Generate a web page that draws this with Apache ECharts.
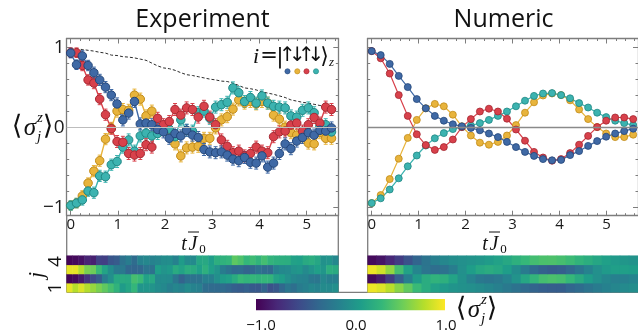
<!DOCTYPE html>
<html><head><meta charset="utf-8">
<script src="https://cdn.jsdelivr.net/npm/echarts@6/dist/echarts.min.js"></script>
<style>html,body{margin:0;padding:0;background:#fff}#c{width:638px;height:333px}</style>
</head><body><div id="c"></div>
<script>
// ---------------- data ----------------
const expT = [0, 0.123, 0.246, 0.368, 0.491, 0.614, 0.737, 0.860, 0.982, 1.105, 1.228, 1.351, 1.474, 1.596, 1.719, 1.842, 1.965, 2.088, 2.210, 2.333, 2.456, 2.579, 2.702, 2.824, 2.947, 3.070, 3.193, 3.316, 3.438, 3.561, 3.684, 3.807, 3.930, 4.052, 4.175, 4.298, 4.421, 4.544, 4.666, 4.789, 4.912, 5.035, 5.158, 5.280, 5.403, 5.526];
const expBlue = [0.925, 0.78, 0.89, 0.77, 0.68, 0.59, 0.50, 0.40, 0.29, 0.09, 0.175, 0.32, 0.04, 0.05, 0.03, -0.03, -0.06, -0.14, -0.08, -0.11, -0.04, -0.10, -0.13, -0.28, -0.31, -0.32, -0.31, -0.35, -0.40, -0.42, -0.38, -0.44, -0.45, -0.36, -0.50, -0.45, -0.33, -0.21, -0.27, -0.175, -0.13, -0.07, -0.10, -0.04, -0.05, -0.01];
const expYellow = [-0.98, -0.95, -0.86, -0.70, -0.55, -0.42, -0.15, -0.01, 0.20, 0.22, 0.21, 0.40, 0.35, 0.14, 0.20, -0.05, -0.03, -0.05, -0.21, -0.36, -0.26, -0.25, -0.24, -0.14, -0.14, -0.01, 0.09, 0.13, 0.225, 0.34, 0.30, 0.32, 0.29, 0.32, 0.30, 0.15, 0.10, 0.0, -0.07, -0.10, -0.11, -0.20, -0.21, -0.07, -0.14, -0.14];
const expRed = [0.93, 0.93, 0.77, 0.59, 0.55, 0.35, 0.155, -0.02, -0.18, -0.19, -0.33, -0.35, -0.33, -0.22, -0.25, 0.11, 0.03, 0.07, 0.22, 0.15, 0.24, 0.22, 0.125, 0.26, 0.125, 0.03, -0.16, -0.24, -0.32, -0.30, -0.36, -0.33, -0.25, -0.30, -0.32, -0.12, -0.06, -0.05, 0.025, 0.05, -0.05, 0.03, 0.12, 0.05, 0.25, 0.22];
const expTeal = [-0.98, -0.95, -0.91, -0.80, -0.82, -0.61, -0.62, -0.47, -0.43, -0.25, -0.16, -0.30, -0.11, -0.075, -0.11, -0.08, -0.03, -0.025, -0.12, 0.09, -0.04, -0.05, 0.18, 0.20, 0.11, 0.25, 0.28, 0.31, 0.49, 0.43, 0.32, 0.37, 0.30, 0.39, 0.30, 0.26, 0.25, 0.24, 0.14, 0.125, 0.21, 0.24, 0.18, 0.01, 0.03, -0.06];
const expErr = [0.06, 0.06, 0.065, 0.065, 0.07, 0.07, 0.07, 0.07, 0.075, 0.075, 0.075, 0.075, 0.075, 0.075, 0.075, 0.075, 0.075, 0.075, 0.075, 0.075, 0.075, 0.075, 0.075, 0.075, 0.075, 0.075, 0.075, 0.075, 0.075, 0.075, 0.075, 0.075, 0.075, 0.075, 0.075, 0.075, 0.075, 0.075, 0.075, 0.075, 0.075, 0.075, 0.075, 0.075, 0.075, 0.075];
const expEnvelope = [0.98, 0.975, 0.97, 0.96, 0.95, 0.935, 0.925, 0.90, 0.895, 0.88, 0.875, 0.865, 0.85, 0.835, 0.80, 0.765, 0.74, 0.73, 0.71, 0.68, 0.655, 0.645, 0.63, 0.615, 0.60, 0.59, 0.575, 0.57, 0.55, 0.52, 0.49, 0.48, 0.465, 0.44, 0.425, 0.41, 0.39, 0.37, 0.34, 0.325, 0.31, 0.30, 0.285, 0.27, 0.26, 0.26];

const numT = [0, 0.192, 0.384, 0.576, 0.768, 0.960, 1.152, 1.344, 1.536, 1.728, 1.920, 2.112, 2.304, 2.496, 2.688, 2.880, 3.072, 3.264, 3.456, 3.648, 3.840, 4.032, 4.224, 4.416, 4.608, 4.800, 4.992, 5.184, 5.376, 5.568];
const numBlue = [0.95, 0.90, 0.79, 0.64, 0.50, 0.35, 0.235, 0.14, 0.08, 0.035, 0.01, -0.01, -0.04, -0.08, -0.125, -0.185, -0.25, -0.31, -0.36, -0.40, -0.415, -0.41, -0.35, -0.30, -0.235, -0.175, -0.12, -0.08, -0.05, -0.02];
const numYellow = [-0.95, -0.85, -0.65, -0.395, -0.135, 0.09, 0.235, 0.29, 0.26, 0.155, 0.01, -0.105, -0.195, -0.22, -0.185, -0.105, 0.025, 0.18, 0.31, 0.395, 0.42, 0.40, 0.335, 0.22, 0.10, 0.0, -0.08, -0.125, -0.125, -0.095];
const numRed = [0.95, 0.86, 0.67, 0.40, 0.14, -0.09, -0.225, -0.285, -0.25, -0.155, 0.0, 0.10, 0.195, 0.23, 0.195, 0.105, -0.03, -0.17, -0.31, -0.38, -0.42, -0.40, -0.325, -0.22, -0.11, 0.0, 0.08, 0.12, 0.12, 0.10];
const numTeal = [-0.95, -0.89, -0.78, -0.64, -0.49, -0.355, -0.23, -0.14, -0.075, -0.025, 0.0, 0.02, 0.05, 0.09, 0.14, 0.195, 0.26, 0.33, 0.39, 0.42, 0.425, 0.40, 0.36, 0.30, 0.245, 0.18, 0.125, 0.08, 0.05, 0.025];

const xTickLabels = [0, 1, 2, 3, 4, 5];
const yTickLabels = [-1, 0, 1];
const rowLabels = ['1', '2', '3', '4'];
const cbarLabels = ['\u22121.0', '0.0', '1.0'];
const panelTitles = ['Experiment', 'Numeric'];

// ---------------- styles ----------------
const FILL = {blue: '#3f69a5', yellow: '#e8b43c', red: '#d8414b', teal: '#3cb3b0'};
const EDGE = {blue: '#244679', yellow: '#c08a18', red: '#a52731', teal: '#1f8683'};
const FRAME = '#7d7d7d';
const VIRIDIS = ['#440154', '#482878', '#3e4989', '#31688e', '#26828e', '#1f9e89', '#35b779', '#6ece58', '#b5de2b', '#fde725'];
const SERIF = '"Liberation Serif", "DejaVu Serif", serif';
const SANS = '"Open Sans", "DejaVu Sans", sans-serif';

const gL = {left: 66.7, top: 38.5, width: 271.6, height: 177.2};
const gR = {left: 367.7, top: 38.5, width: 271.6, height: 177.2};
const hL = {left: 66.7, top: 255.7, width: 271.6, height: 36.6};
const hR = {left: 367.7, top: 255.7, width: 271.6, height: 36.6};
const XMIN = -0.085, XMAX = 5.67, YMIN = -1.1075, YMAX = 1.1075;

const xMinor = []; for (let k = 0; k <= 28; k++) xMinor.push(+(k * 0.2).toFixed(1));
const yMinor = []; for (let k = -5; k <= 5; k++) yMinor.push(+(k * 0.2).toFixed(1));

function mkAxis(gridIndex, position, min, max, ticks, len, labelVals, fs, showLine) {
  return {
    type: 'value', gridIndex, position, min, max,
    axisLine: {show: showLine, onZero: false, lineStyle: {color: FRAME, width: 1.3}},
    axisTick: {show: true, inside: true, length: len, customValues: ticks, lineStyle: {color: FRAME, width: 1}},
    axisLabel: labelVals ? {show: true, customValues: labelVals, fontSize: fs, margin: 2, color: '#1a1a1a', fontFamily: SANS,
      formatter: v => (v < 0 ? '\u2212' + Math.abs(v) : String(v))} : {show: false},
    splitLine: {show: false}, minorTick: {show: false}, minorSplitLine: {show: false}
  };
}
const MAJ = xTickLabels, YMAJ = yTickLabels;

const xAxis = [
  mkAxis(0, 'bottom', XMIN, XMAX, MAJ, 5, xTickLabels, 15, true),
  mkAxis(0, 'top', XMIN, XMAX, MAJ, 5, null, 0, true),
  mkAxis(1, 'bottom', XMIN, XMAX, xMinor, 2.5, null, 0, false),
  mkAxis(1, 'top', XMIN, XMAX, xMinor, 2.5, null, 0, false),
  mkAxis(2, 'bottom', XMIN, XMAX, MAJ, 5, xTickLabels, 15, true),
  mkAxis(2, 'top', XMIN, XMAX, MAJ, 5, null, 0, true),
  mkAxis(3, 'bottom', XMIN, XMAX, xMinor, 2.5, null, 0, false),
  mkAxis(3, 'top', XMIN, XMAX, xMinor, 2.5, null, 0, false),
  {type: 'category', gridIndex: 4, data: expT.map((t, i) => i), show: false},
  {type: 'category', gridIndex: 5, data: numT.map((t, i) => i), show: false}
];
const yAxis = [
  mkAxis(0, 'left', YMIN, YMAX, YMAJ, 5, yTickLabels, 19, true),
  mkAxis(0, 'right', YMIN, YMAX, YMAJ, 5, null, 0, true),
  mkAxis(1, 'left', YMIN, YMAX, yMinor, 2.5, null, 0, false),
  mkAxis(1, 'right', YMIN, YMAX, yMinor, 2.5, null, 0, false),
  mkAxis(2, 'left', YMIN, YMAX, YMAJ, 5, null, 0, true),
  mkAxis(2, 'right', YMIN, YMAX, YMAJ, 5, null, 0, true),
  mkAxis(3, 'left', YMIN, YMAX, yMinor, 2.5, null, 0, false),
  mkAxis(3, 'right', YMIN, YMAX, yMinor, 2.5, null, 0, false),
  {type: 'category', gridIndex: 4, data: rowLabels, show: false},
  {type: 'category', gridIndex: 5, data: rowLabels, show: false}
];

// ---------------- series ----------------
const expSets = [['yellow', expYellow], ['teal', expTeal], ['red', expRed], ['blue', expBlue]];
const numSets = [['yellow', numYellow], ['teal', numTeal], ['red', numRed], ['blue', numBlue]];

function errRender(color) {
  return function (params, api) {
    const t = api.value(0), v = api.value(1), e = api.value(2);
    const a = api.coord([t, v + e]), b = api.coord([t, v - e]);
    const w = 2, st = {stroke: color, lineWidth: 1};
    return {type: 'group', children: [
      {type: 'line', shape: {x1: a[0], y1: a[1], x2: b[0], y2: b[1]}, style: st},
      {type: 'line', shape: {x1: a[0] - w, y1: a[1], x2: a[0] + w, y2: a[1]}, style: st},
      {type: 'line', shape: {x1: b[0] - w, y1: b[1], x2: b[0] + w, y2: b[1]}, style: st}
    ]};
  };
}
const zeroLine = (color, width) => ({silent: true, symbol: ['none', 'none'], label: {show: false}, animation: false,
  lineStyle: {color, width, type: 'solid'}, data: [{yAxis: 0}]});

const series = [];
series.push({type: 'line', name: 'envelope', xAxisIndex: 0, yAxisIndex: 0, data: expT.map((t, i) => [t, expEnvelope[i]]),
  showSymbol: false, symbol: 'none', lineStyle: {color: '#2a2a2a', width: 1, type: [3, 2]}, markLine: zeroLine('#bdbdbd', 1), z: 1});
expSets.forEach(([c, arr]) => series.push({type: 'custom', xAxisIndex: 0, yAxisIndex: 0, renderItem: errRender(FILL[c]),
  encode: {x: 0, y: 1}, data: expT.map((t, i) => [t, arr[i], expErr[i]]), z: 2}));
expSets.forEach(([c, arr]) => series.push({type: 'line', xAxisIndex: 0, yAxisIndex: 0, data: expT.map((t, i) => [t, arr[i]]),
  symbol: 'circle', symbolSize: 8.5, lineStyle: {color: FILL[c], width: 1.4},
  itemStyle: {color: FILL[c], borderColor: EDGE[c], borderWidth: 1}, z: 3}));
series.push({type: 'line', xAxisIndex: 4, yAxisIndex: 4, data: [], markLine: zeroLine('#8a8a8a', 1.3), z: 1});
numSets.forEach(([c, arr]) => series.push({type: 'line', xAxisIndex: 4, yAxisIndex: 4, data: numT.map((t, i) => [t, arr[i]]),
  symbol: 'circle', symbolSize: 7, lineStyle: {color: FILL[c], width: 1.2},
  itemStyle: {color: FILL[c], borderColor: EDGE[c], borderWidth: 0.8}, z: 3}));

// heatmaps: rows j=1..4 -> blue, yellow, red, teal
function heat(rows) { const out = []; rows.forEach((arr, r) => arr.forEach((v, i) => out.push([i, r, v]))); return out; }
const hStart = series.length;
series.push({type: 'heatmap', xAxisIndex: 8, yAxisIndex: 8, data: heat([expBlue, expYellow, expRed, expTeal]), progressive: 0, itemStyle: {borderWidth: 0}});
series.push({type: 'heatmap', xAxisIndex: 9, yAxisIndex: 9, data: heat([numBlue, numYellow, numRed, numTeal]), progressive: 0, itemStyle: {borderWidth: 0}});

// ---------------- graphic decorations ----------------
const G = [];
function txt(x, y, text, font, opts) {
  G.push(Object.assign({type: 'text', x, y, silent: true, style: Object.assign({text, font, fill: '#111', align: 'center', verticalAlign: 'middle'}, opts || {})}));
}
txt(202.5, 20, panelTitles[0], '25px ' + SANS);
txt(503.5, 20, panelTitles[1], '25px ' + SANS);
// y label <sigma_j^z>
function sigmaLabel(x, y) {
  txt(x, y, '\u27E8', '27px "DejaVu Sans"');
  txt(x + 13, y + 1, '\u03C3', 'italic 25px ' + SERIF);
  txt(x + 23, y - 9, 'z', 'italic 15px ' + SERIF);
  txt(x + 22, y + 10, 'j', 'italic 15px ' + SERIF);
  txt(x + 31, y, '\u27E9', '27px "DejaVu Sans"');
}
sigmaLabel(17, 127);
sigmaLabel(461, 309);
// x axis name  t J0 (J with bar)
function tjLabel(cx) {
  txt(cx - 8, 245, 't', 'italic 20px ' + SERIF);
  txt(cx + 1, 245, 'J', 'italic 20px ' + SERIF);
  txt(cx + 10.5, 250, '0', '13px ' + SERIF);
  G.push({type: 'line', silent: true, shape: {x1: cx - 4, y1: 232, x2: cx + 7, y2: 232}, style: {stroke: '#111', lineWidth: 1}});
}
tjLabel(192);
tjLabel(493);
// legend i = |up down up down>_z
txt(256, 57, 'i', 'italic 22px ' + SERIF);
txt(269, 57, '=', '21px "DejaVu Sans"');
txt(280, 57, '|', '22px "DejaVu Sans"');
const legendOrder = ['blue', 'yellow', 'red', 'teal'];
const arrows = ['\u2191', '\u2193', '\u2191', '\u2193'];
const ax = [287.5, 297.3, 306.5, 316];
arrows.forEach((a, k) => {
  txt(ax[k], 56, a, '20px "DejaVu Sans"');
  G.push({type: 'circle', silent: true, shape: {cx: ax[k], cy: 71.3, r: 2.6}, style: {fill: FILL[legendOrder[k]], stroke: EDGE[legendOrder[k]], lineWidth: 0.6}});
});
txt(324.5, 57, '\u27E9', '22px "DejaVu Sans"');
txt(331.5, 63, 'z', 'italic 13px ' + SERIF);
// heatmap row labels
function rot(x, y, text, font) { G.push({type: 'text', x, y, rotation: Math.PI / 2, silent: true, style: {text, font, fill: '#111', align: 'center', verticalAlign: 'middle'}}); }
rot(56, 261.5, rowLabels[3], '19px ' + SANS);
rot(56, 288, rowLabels[0], '19px ' + SANS);
rot(37, 275, 'j', 'italic 22px ' + SERIF);
// frame continuation around heatmaps
const fl = (x1, y1, x2, y2) => G.push({type: 'line', silent: true, shape: {x1, y1, x2, y2}, style: {stroke: FRAME, lineWidth: 1.3}});
fl(66.7, 215.7, 66.7, 292.3); fl(338.3, 215.7, 338.3, 292.3); fl(367.7, 215.7, 367.7, 292.3); fl(66.7, 292.3, 638, 292.3);
// colorbar
G.push({type: 'rect', silent: true, shape: {x: 256, y: 299, width: 189, height: 11.3},
  style: {fill: new echarts.graphic.LinearGradient(0, 0, 1, 0, VIRIDIS.map((c, k) => ({offset: k / (VIRIDIS.length - 1), color: c})))}});
txt(261, 326, cbarLabels[0], '15px ' + SANS);
txt(356, 326, cbarLabels[1], '15px ' + SANS);
txt(446, 326, cbarLabels[2], '15px ' + SANS);

const option = {
  animation: false,
  textStyle: {fontFamily: SANS},
  grid: [gL, gL, gR, gR, hL, hR].map(g => Object.assign({containLabel: false, show: false}, g)),
  xAxis, yAxis,
  visualMap: {type: 'continuous', min: -1, max: 1, show: false, seriesIndex: [hStart, hStart + 1], inRange: {color: VIRIDIS}},
  series,
  graphic: G
};
const chart = echarts.init(document.getElementById('c'));
chart.setOption(option);
</script></body></html>
